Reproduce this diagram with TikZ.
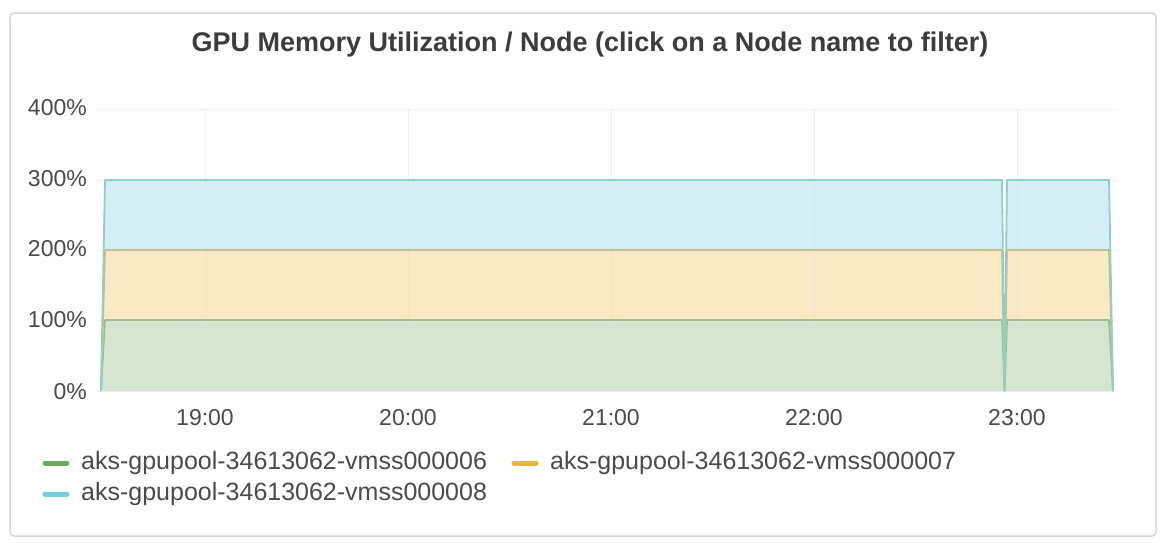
\documentclass[tikz,border=0pt]{standalone}
\usepackage{fontspec}
\setmainfont{Liberation Sans}
\definecolor{txt}{HTML}{4A4A4F}
\definecolor{ttl}{HTML}{3C3C40}
\definecolor{grid}{HTML}{E2E2E2}
\definecolor{gfill}{HTML}{D6E5D1}
\definecolor{ofill}{HTML}{FBE8C4}
\definecolor{cfill}{HTML}{D3EFF5}
\definecolor{gline}{HTML}{A2BE8C}
\definecolor{oline}{HTML}{C7BE8F}
\definecolor{cline}{HTML}{8ECFC8}
\definecolor{gsw}{HTML}{6FA862}
\definecolor{osw}{HTML}{EAB839}
\definecolor{csw}{HTML}{6ED0E0}
\tikzset{
  ticklab/.style={font=\fontsize{23}{26}\selectfont, text=txt, inner sep=0pt},
  leglab/.style={font=\fontsize{25}{28}\selectfont, text=txt, inner sep=0pt, anchor=west},
  gridline/.style={draw=grid, line width=1pt},
  swatch/.style={line width=5pt, line cap=round},
  series/.style={line width=1.8pt, line join=round}
}
\begin{document}
\begin{tikzpicture}[x=1pt,y=-1pt]
\useasboundingbox (0,0) rectangle (1163,542);
\fill[white] (0,0) rectangle (1163,542);
% panel
\draw[draw=grid!90!black!80, line width=1.5pt, rounded corners=4pt, fill=white] (10,13) rectangle (1156,536);
% title
\node[font=\fontsize{27}{30}\selectfont\bfseries, text=ttl, inner sep=0pt] (title) at (590,45) {GPU Memory Utilization / Node (click on a Node name to filter)};
% fills
\fill[gfill] (101,391) -- (105,320) -- (1002,320) -- (1004.5,391) -- (1007,320) -- (1109,320) -- (1113,391) -- cycle;
\fill[ofill] (101,391) -- (105,250) -- (1002,250) -- (1004.5,391) -- (1007,250) -- (1109,250) -- (1113,391)
   -- (1109,320) -- (1007,320) -- (1004.5,391) -- (1002,320) -- (105,320) -- cycle;
\fill[cfill] (101,391) -- (105,180) -- (1002,180) -- (1004.5,391) -- (1007,180) -- (1109,180) -- (1113,391)
   -- (1109,250) -- (1007,250) -- (1004.5,391) -- (1002,250) -- (105,250) -- cycle;
% grid
\begin{scope}[opacity=0.55]
\foreach \yy in {109,180,250,320,391} \draw[gridline] (97,\yy) -- (1117,\yy);
\foreach \xx in {205,408,611,814,1017} \draw[gridline] (\xx,109) -- (\xx,391);
\end{scope}
% series lines
\draw[series, draw=gline] (101,391) -- (105,320) -- (1002,320) -- (1004.5,391) -- (1007,320) -- (1109,320) -- (1113,391);
\draw[series, draw=oline] (101,391) -- (105,250) -- (1002,250) -- (1004.5,391) -- (1007,250) -- (1109,250) -- (1113,391);
\draw[series, draw=cline] (101,391) -- (105,180) -- (1002,180) -- (1004.5,391) -- (1007,180) -- (1109,180) -- (1113,391);
% y labels
\node[ticklab, anchor=east] (y400) at (87,108) {400\%};
\node[ticklab, anchor=east] (y300) at (87,179) {300\%};
\node[ticklab, anchor=east] (y200) at (87,249) {200\%};
\node[ticklab, anchor=east] (y100) at (87,320) {100\%};
\node[ticklab, anchor=east] (y0) at (87,392) {0\%};
% x labels
\node[ticklab] (x19) at (205,418) {19:00};
\node[ticklab] (x20) at (408,418) {20:00};
\node[ticklab] (x21) at (611,418) {21:00};
\node[ticklab] (x22) at (814,418) {22:00};
\node[ticklab] (x23) at (1017,418) {23:00};
% legend
\coordinate (s1a) at (45,463); \coordinate (s1b) at (67,463);
\draw[swatch, draw=gsw] (s1a) -- (s1b);
\node[leglab] (l1) at (81,463) {aks-gpupool-34613062-vmss000006};
\coordinate (s2a) at (514,463); \coordinate (s2b) at (536,463);
\draw[swatch, draw=osw] (s2a) -- (s2b);
\node[leglab] (l2) at (550,463) {aks-gpupool-34613062-vmss000007};
\coordinate (s3a) at (45,494); \coordinate (s3b) at (67,494);
\draw[swatch, draw=csw] (s3a) -- (s3b);
\node[leglab] (l3) at (81,494) {aks-gpupool-34613062-vmss000008};
\end{tikzpicture}
\end{document}
